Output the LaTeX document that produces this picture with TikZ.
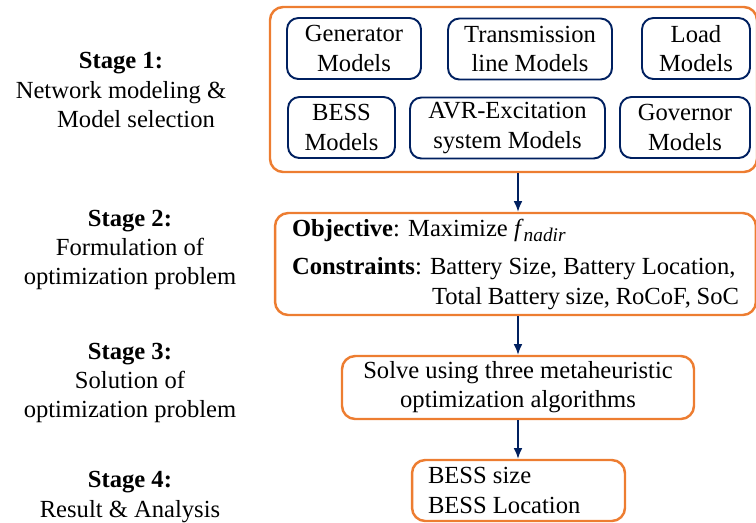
\documentclass[tikz,border=0pt]{standalone}
\usepackage{fontspec}
\setmainfont{Liberation Serif}
\usetikzlibrary{calc,arrows.meta}
\definecolor{navy}{RGB}{0,32,96}
\definecolor{stageorange}{RGB}{237,125,49}
\newcommand{\pxl}{0.02cm}

\begin{document}
\begin{tikzpicture}[x=0.02cm, y=-0.02cm,
  font=\fontsize{14}{16.6}\selectfont,
  modelbox/.style={draw=navy, line width=1.1pt, rounded corners=6.5pt,
    align=flush center, minimum height=61*\pxl, inner sep=0pt},
  stagebox/.style={draw=stageorange, line width=1.4pt, rounded corners=7.5pt},
  stagelabel/.style={align=flush center},
  flow/.style={draw=navy, line width=1pt, -{Latex[length=6pt,width=5pt]}}]
\useasboundingbox (0,0) rectangle (756,522);
% left column: stage titles
\node[stagelabel] (lab1) at (121,90) {\textbf{Stage 1:}\\Network modeling \&\\\hspace*{0.6cm}Model selection};
\node[stagelabel] (lab2) at (130,250) {\textbf{Stage 2:}\\Formulation of\\optimization problem};
\node[stagelabel] (lab3) at (130,383) {\textbf{Stage 3:}\\Solution of\\optimization problem};
\node[stagelabel] (lab4) at (130,497) {\textbf{Stage 4:}\\Result \& Analysis};

% stage 1: frame with the six model blocks
\node[stagebox, minimum width=487*\pxl, minimum height=165*\pxl, inner sep=0pt] (stg1) at (513.5,89.5) {};
\node[modelbox, minimum width=134*\pxl] (gen)   at (354,48.5)  {Generator\\Models};
\node[modelbox, minimum width=164*\pxl] (trans) at (530,49)    {Transmission\\line Models};
\node[modelbox, minimum width=108*\pxl] (load)  at (696,48.5)  {Load\\Models};
\node[modelbox, minimum width=107*\pxl] (bess)  at (341.5,127.5) {BESS\\Models};
\node[modelbox, minimum width=195*\pxl] (avr)   at (507.5,128) {AVR-Excitation\\system Models};
\node[modelbox, minimum width=130*\pxl] (gov)   at (685,127.5) {Governor\\Models};

% stage 2: objective and constraints
\node[stagebox, align=flush left, text width=8.94cm, inner xsep=0.34cm, inner ysep=0pt,
      minimum height=102*\pxl] (stg2) at (515.5,264)
  {\textbf{Objective}: Maximize \textit{f}\raisebox{-3pt}{\fontsize{11}{11}\selectfont\textit{nadir}}\\[5.5pt]
   \textbf{Constraints}: Battery Size, Battery Location,\\
   \hspace*{2.8cm}Total Battery size, RoCoF, SoC};

% stage 3 and 4
\node[stagebox, align=flush center, minimum width=352*\pxl, minimum height=63*\pxl, inner sep=0pt] (stg3)
  at (518,387.5) {Solve using three metaheuristic\\optimization algorithms};
\node[stagebox, align=flush left, text width=3.62cm, inner xsep=0.32cm, inner ysep=0pt,
      minimum height=61*\pxl] (stg4) at (518.5,490.5) {BESS size\\BESS Location};

\draw[flow] (stg1.south -| stg3.north) -- (stg2.north -| stg3.north);
\draw[flow] (stg2.south -| stg3.north) -- (stg3.north);
\draw[flow] (stg3.south) -- (stg3.south |- stg4.north);
\end{tikzpicture}
\end{document}
